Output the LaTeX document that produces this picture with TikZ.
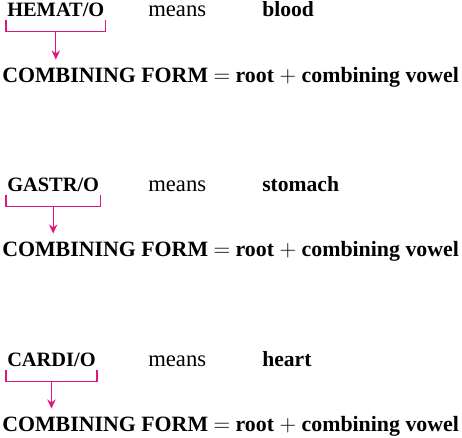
\documentclass[tikz,border=0pt]{standalone}
\usepackage{fontspec}
\setmainfont{Liberation Serif}
\usetikzlibrary{arrows.meta,positioning,calc}
\definecolor{Rubine}{HTML}{E2157F}

\begin{document}
\begin{tikzpicture}[x=0.75pt,y=-0.75pt,
    every node/.style={font=\fontsize{17}{19}\selectfont, inner sep=0pt, anchor=base west},
    term/.style={font=\fontsize{15.3}{18}\selectfont\bfseries},
    sense/.style={font=\fontsize{16.2}{18}\selectfont\bfseries},
    formula/.style={font=\fontsize{16.4}{18}\selectfont\bfseries},
    bracket/.style={draw=Rubine, line width=0.9pt},
    link/.style={-{Stealth[length=2.4mm,width=2.2mm]}, draw=Rubine, line width=0.9pt, shorten >=6pt}]
  \useasboundingbox (0,0) rectangle (462,438);

  % row 1
  \node[term] (w1) at (7,17) {HEMAT/O};
  \node (v1) at (148,17) {means};
  \node[sense] (d1) at (262,17) {blood};
  \node[formula] (c1) at (2,83) {COMBINING FORM $=$ root $+$ combining vowel};

  % row 2
  \node[term] (w2) at (7,192) {GASTR/O};
  \node (v2) at (148,192) {means};
  \node[sense] (d2) at (262,192) {stomach};
  \node[formula] (c2) at (2,257) {COMBINING FORM $=$ root $+$ combining vowel};

  % row 3
  \node[term] (w3) at (7,367) {CARDI/O};
  \node (v3) at (148,367) {means};
  \node[sense] (d3) at (262,367) {heart};
  \node[formula] (c3) at (2,432) {COMBINING FORM $=$ root $+$ combining vowel};

  \foreach \i in {1,2,3} {
    \draw[bracket] ($(w\i.south west)+(-1,3)$) -- ++(0,11) -| ($(w\i.south east)+(1,3)$);
    \coordinate (m\i) at ($(w\i.south west)!0.5!(w\i.south east)+(0,14)$);
    \draw[link] (m\i) -- (m\i |- c\i.north);
  }
\end{tikzpicture}
\end{document}
